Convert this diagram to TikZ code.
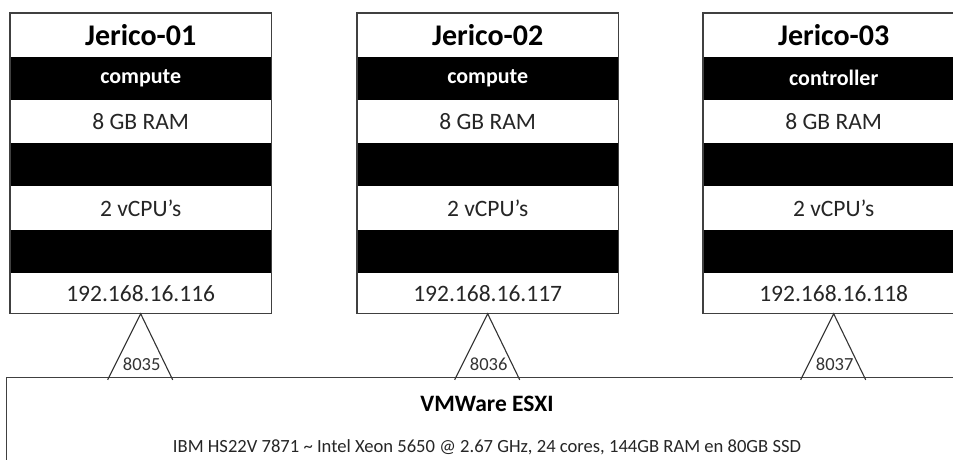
\documentclass[tikz,border=0pt]{standalone}
\usepackage{fontspec}
\setmainfont{Carlito}
\usetikzlibrary{calc}
\begin{document}
\begin{tikzpicture}[x=1pt,y=-1pt,
 row/.style={rectangle, minimum width=261pt, minimum height=43pt, inner sep=0pt, anchor=north west, font=\fontsize{23.5}{28}\selectfont, text=black!85},
 titlerow/.style={row, font=\fontsize{30}{36}\selectfont\bfseries, text=black},
 blackrow/.style={row, fill=black, text=white, font=\fontsize{22}{26}\selectfont\bfseries},
 iprow/.style={row, minimum height=40pt},
 frame/.style={draw=black!75, line width=1.3pt},
 tri/.style={draw=black!80, line width=1.1pt, line join=miter},
 port/.style={font=\fontsize{18.5}{22}\selectfont, text=black!80, inner sep=0pt},
 esxtitle/.style={font=\fontsize{23.5}{28}\selectfont\bfseries, text=black, inner sep=0pt},
 esxtext/.style={font=\fontsize{18.6}{22}\selectfont, text=black!85, inner sep=0pt}
]
\useasboundingbox (0,0) rectangle (953,459);
\clip (0,0) rectangle (953,459);
\fill[white] (0,0) rectangle (953,459);

\node[frame, rectangle, minimum width=964pt, minimum height=110pt, anchor=north west, inner sep=0pt] (esx) at (6,377) {};
\node[esxtitle] (esxt) at (487,404) {VMWare ESXI};
\node[esxtext] (esxd) at (487,447) {IBM HS22V 7871 \textasciitilde{} Intel Xeon 5650 @ 2.67 GHz, 24 cores, 144GB RAM en 80GB SSD};

\foreach \i/\x/\role/\ip/\port in {1/10/compute/116/8035, 2/357/compute/117/8036, 3/703/controller/118/8037}{
  \node[titlerow] (t\i) at (\x,13) {Jerico-0\i};
  \node[blackrow] (r\i) at (t\i.south west) {\role};
  \node[row] (m\i) at (r\i.south west) {8 GB RAM};
  \node[blackrow] (b\i) at (m\i.south west) {};
  \node[row] (c\i) at (b\i.south west) {2 vCPU’s};
  \node[blackrow] (d\i) at (c\i.south west) {};
  \node[iprow] (p\i) at (d\i.south west) {192.168.16.\ip};
  \draw[frame] (t\i.north west) rectangle (p\i.south east);
  \coordinate (tl\i) at ($(p\i.south)+(-33,66)$);
  \coordinate (tr\i) at ($(p\i.south)+(32,66)$);
  \draw[tri] (tl\i) -- (p\i.south) -- (tr\i);
  \node[port] (l\i) at ($(p\i.south)+(1,50)$) {\port};
}
\end{tikzpicture}
\end{document}
